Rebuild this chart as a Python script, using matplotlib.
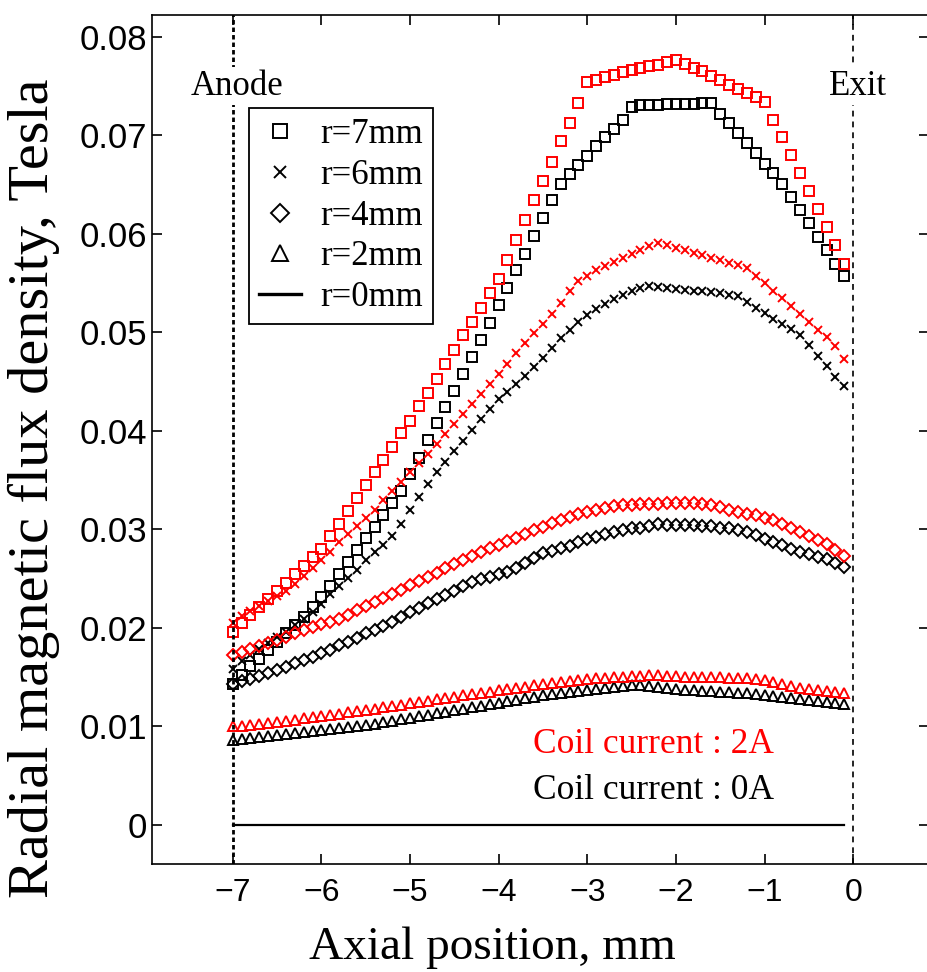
import numpy as np
import matplotlib
matplotlib.use("Agg")
import matplotlib.pyplot as plt
from matplotlib.lines import Line2D

# axial grid, mm (0.1 mm step, anode at -7 to just before exit)
z = np.round(np.arange(-7.0, -0.05, 0.1), 1)

# coil current 0A (black)
sq_0A = [0.0143, 0.0152, 0.0161, 0.0169, 0.0178, 0.0186, 0.0195, 0.0203, 0.0211, 0.0221,
         0.0231, 0.0243, 0.0255, 0.0267, 0.0279, 0.0291, 0.0303, 0.0315, 0.0327, 0.0339,
         0.0356, 0.0373, 0.0391, 0.0408, 0.0424, 0.0441, 0.0458, 0.0475, 0.0492, 0.0510,
         0.0528, 0.0545, 0.0563, 0.0580, 0.0598, 0.0616, 0.0634, 0.0651, 0.0661, 0.0670,
         0.0679, 0.0689, 0.0698, 0.0707, 0.0716, 0.0729, 0.0731, 0.0731, 0.0731, 0.0732,
         0.0732, 0.0732, 0.0732, 0.0733, 0.0733, 0.0722, 0.0713, 0.0702, 0.0692, 0.0682,
         0.0671, 0.0662, 0.0651, 0.0638, 0.0624, 0.0611, 0.0597, 0.0584, 0.0570, 0.0557]
x_0A = [0.0158, 0.0166, 0.0173, 0.0179, 0.0185, 0.0191, 0.0196, 0.0203, 0.0209, 0.0216,
        0.0224, 0.0234, 0.0243, 0.0251, 0.0259, 0.0269, 0.0277, 0.0284, 0.0293, 0.0306,
        0.0320, 0.0333, 0.0346, 0.0358, 0.0369, 0.0380, 0.0390, 0.0401, 0.0412, 0.0422,
        0.0432, 0.0440, 0.0448, 0.0456, 0.0465, 0.0474, 0.0484, 0.0494, 0.0503, 0.0511,
        0.0518, 0.0524, 0.0529, 0.0534, 0.0538, 0.0542, 0.0545, 0.0547, 0.0546, 0.0545,
        0.0544, 0.0543, 0.0542, 0.0542, 0.0541, 0.0540, 0.0538, 0.0537, 0.0531, 0.0525,
        0.0520, 0.0514, 0.0509, 0.0504, 0.0497, 0.0487, 0.0476, 0.0466, 0.0455, 0.0446]
d_0A = [0.0143, 0.0146, 0.0148, 0.0151, 0.0154, 0.0157, 0.0160, 0.0164, 0.0168, 0.0171,
        0.0175, 0.0178, 0.0183, 0.0186, 0.0190, 0.0195, 0.0198, 0.0202, 0.0206, 0.0211,
        0.0216, 0.0220, 0.0225, 0.0229, 0.0233, 0.0238, 0.0243, 0.0247, 0.0250, 0.0252,
        0.0255, 0.0257, 0.0261, 0.0266, 0.0271, 0.0276, 0.0278, 0.0281, 0.0283, 0.0287,
        0.0290, 0.0292, 0.0295, 0.0297, 0.0299, 0.0301, 0.0302, 0.0304, 0.0306, 0.0305,
        0.0305, 0.0305, 0.0305, 0.0304, 0.0304, 0.0302, 0.0301, 0.0299, 0.0297, 0.0294,
        0.0290, 0.0287, 0.0284, 0.0280, 0.0277, 0.0275, 0.0272, 0.0270, 0.0266, 0.0262]
t_0A = [0.0086, 0.0087, 0.0088, 0.0089, 0.0090, 0.0091, 0.0092, 0.0093, 0.0094, 0.0095,
        0.0096, 0.0097, 0.0098, 0.0099, 0.0100, 0.0102, 0.0103, 0.0105, 0.0106, 0.0108,
        0.0109, 0.0111, 0.0112, 0.0114, 0.0115, 0.0117, 0.0118, 0.0120, 0.0121, 0.0123,
        0.0124, 0.0126, 0.0127, 0.0129, 0.0130, 0.0132, 0.0133, 0.0134, 0.0135, 0.0136,
        0.0137, 0.0138, 0.0139, 0.0140, 0.0141, 0.0142, 0.0142, 0.0141, 0.0140, 0.0139,
        0.0138, 0.0137, 0.0137, 0.0136, 0.0136, 0.0135, 0.0135, 0.0134, 0.0134, 0.0133,
        0.0132, 0.0131, 0.0130, 0.0129, 0.0128, 0.0127, 0.0126, 0.0125, 0.0124, 0.0123]
r0 = [0.0] * 70

# coil current 2A (red)
sq_2A = [0.0196, 0.0205, 0.0213, 0.0221, 0.0229, 0.0238, 0.0246, 0.0255, 0.0263, 0.0272,
         0.0280, 0.0293, 0.0306, 0.0319, 0.0332, 0.0345, 0.0358, 0.0371, 0.0384, 0.0398,
         0.0410, 0.0425, 0.0439, 0.0453, 0.0468, 0.0482, 0.0497, 0.0511, 0.0525, 0.0540,
         0.0554, 0.0574, 0.0594, 0.0614, 0.0634, 0.0654, 0.0673, 0.0694, 0.0713, 0.0733,
         0.0754, 0.0756, 0.0759, 0.0761, 0.0764, 0.0766, 0.0768, 0.0771, 0.0772, 0.0775,
         0.0777, 0.0773, 0.0768, 0.0765, 0.0760, 0.0756, 0.0751, 0.0747, 0.0743, 0.0739,
         0.0734, 0.0716, 0.0698, 0.0680, 0.0662, 0.0644, 0.0625, 0.0607, 0.0589, 0.0570]
x_2A = [0.0205, 0.0212, 0.0217, 0.0222, 0.0227, 0.0232, 0.0238, 0.0245, 0.0253, 0.0261,
        0.0269, 0.0277, 0.0287, 0.0295, 0.0304, 0.0312, 0.0320, 0.0330, 0.0339, 0.0348,
        0.0358, 0.0367, 0.0377, 0.0387, 0.0397, 0.0407, 0.0417, 0.0427, 0.0438, 0.0448,
        0.0458, 0.0468, 0.0479, 0.0489, 0.0499, 0.0509, 0.0519, 0.0530, 0.0542, 0.0552,
        0.0557, 0.0563, 0.0567, 0.0572, 0.0576, 0.0580, 0.0584, 0.0588, 0.0591, 0.0589,
        0.0586, 0.0584, 0.0581, 0.0579, 0.0576, 0.0574, 0.0571, 0.0569, 0.0565, 0.0557,
        0.0550, 0.0542, 0.0535, 0.0527, 0.0519, 0.0511, 0.0503, 0.0495, 0.0486, 0.0473]
d_2A = [0.0173, 0.0176, 0.0179, 0.0182, 0.0185, 0.0188, 0.0191, 0.0195, 0.0198, 0.0201,
        0.0204, 0.0206, 0.0209, 0.0213, 0.0218, 0.0222, 0.0226, 0.0230, 0.0235, 0.0239,
        0.0244, 0.0248, 0.0252, 0.0256, 0.0261, 0.0265, 0.0269, 0.0273, 0.0277, 0.0281,
        0.0284, 0.0288, 0.0291, 0.0295, 0.0299, 0.0303, 0.0307, 0.0310, 0.0313, 0.0316,
        0.0318, 0.0320, 0.0322, 0.0324, 0.0325, 0.0325, 0.0326, 0.0326, 0.0326, 0.0327,
        0.0327, 0.0327, 0.0327, 0.0326, 0.0325, 0.0323, 0.0320, 0.0318, 0.0316, 0.0315,
        0.0312, 0.0310, 0.0306, 0.0302, 0.0297, 0.0293, 0.0289, 0.0285, 0.0279, 0.0273]
t_2A = [0.0100, 0.0101, 0.0102, 0.0103, 0.0104, 0.0105, 0.0106, 0.0107, 0.0109, 0.0110,
        0.0111, 0.0112, 0.0113, 0.0115, 0.0116, 0.0117, 0.0118, 0.0120, 0.0121, 0.0122,
        0.0124, 0.0125, 0.0126, 0.0128, 0.0129, 0.0130, 0.0132, 0.0133, 0.0134, 0.0135,
        0.0137, 0.0138, 0.0139, 0.0140, 0.0142, 0.0143, 0.0144, 0.0145, 0.0146, 0.0147,
        0.0148, 0.0149, 0.0149, 0.0150, 0.0150, 0.0151, 0.0151, 0.0152, 0.0152, 0.0151,
        0.0151, 0.0150, 0.0150, 0.0150, 0.0150, 0.0150, 0.0149, 0.0149, 0.0149, 0.0148,
        0.0147, 0.0145, 0.0143, 0.0141, 0.0139, 0.0138, 0.0137, 0.0136, 0.0135, 0.0134]

xticks = [-7, -6, -5, -4, -3, -2, -1, 0]
xticklabels = ["\u22127", "\u22126", "\u22125", "\u22124", "\u22123", "\u22122", "\u22121", "0"]
yticks = [0, 0.01, 0.02, 0.03, 0.04, 0.05, 0.06, 0.07, 0.08]
yticklabels = ["0", "0.01", "0.02", "0.03", "0.04", "0.05", "0.06", "0.07", "0.08"]
legend_labels = ["r=7mm", "r=6mm", "r=4mm", "r=2mm", "r=0mm"]

serif = "Liberation Serif"
sans = "Liberation Sans"

W, H = 928, 972
fig = plt.figure(figsize=(W / 100, H / 100), dpi=100)
ax = fig.add_axes([152 / W, (H - 864) / H, (929 - 152) / W, (864 - 15) / H])

mk = dict(linestyle="none", markerfacecolor="none")
for col, sq, xx, dd, tt in [("black", sq_0A, x_0A, d_0A, t_0A),
                            ("red", sq_2A, x_2A, d_2A, t_2A)]:
    ax.plot(z, tt, marker="^", ms=7.6, mew=1.4, color=col, **mk)
    ax.plot(z, dd, marker="D", ms=5.8, mew=1.4, color=col, **mk)
    ax.plot(z, xx, marker="x", ms=6.0, mew=1.4, color=col, **mk)
    ax.plot(z, sq, marker="s", ms=7.2, mew=1.4, color=col, **mk)
ax.plot(z, r0, color="black", lw=1.6)

# anode / exit markers
ax.axvline(-7, color="black", lw=2.0, ls=(0, (1.6, 1.1)))
ax.axvline(0, color="black", lw=1.2, ls=(0, (3.5, 3.0)))
ax.text(-6.95, 0.0750, "Anode", family=serif, fontsize=25, ha="center", va="center",
        bbox=dict(facecolor="white", edgecolor="none", pad=2))
ax.text(0.05, 0.0750, "Exit", family=serif, fontsize=25, ha="center", va="center",
        bbox=dict(facecolor="white", edgecolor="none", pad=2))
ax.text(-3.61, 0.0082, "Coil current : 2A", family=serif, fontsize=25.5, color="red",
        ha="left", va="center")
ax.text(-3.61, 0.0035, "Coil current : 0A", family=serif, fontsize=25.5, color="black",
        ha="left", va="center")

ax.set_xlim(-7.911, 0.856)
ax.set_ylim(-0.00396, 0.08223)
ax.set_xticks(xticks)
ax.set_xticklabels(xticklabels, family=sans, fontsize=23)
ax.set_yticks(yticks)
ax.set_yticklabels(yticklabels, family=sans, fontsize=25)
ax.tick_params(direction="in", length=7, width=1.2, top=True, right=True)
ax.tick_params(axis="x", pad=10)
ax.tick_params(axis="y", pad=3.5)
for s in ax.spines.values():
    s.set_linewidth(1.2)

fig.text(492 / W, 1 - 948 / H, "Axial position, mm", family=serif, fontsize=34,
         ha="center", va="center")
fig.text(34 / W, 1 - 488 / H, "Radial magnetic flux density, Tesla", family=serif,
         fontsize=42, rotation=90, ha="center", va="center")

handles = [
    Line2D([], [], marker="s", ms=10, mew=1.4, color="black", **mk),
    Line2D([], [], marker="x", ms=9, mew=1.4, color="black", **mk),
    Line2D([], [], marker="D", ms=9, mew=1.4, color="black", **mk),
    Line2D([], [], marker="^", ms=11, mew=1.4, color="black", **mk),
    Line2D([], [], color="black", lw=2.4),
]
leg = fig.legend(handles, legend_labels, loc="upper left",
                 bbox_to_anchor=(249 / W, 1 - 108 / H), prop={"family": serif, "size": 25},
                 frameon=True, fancybox=False, framealpha=1, edgecolor="black",
                 handlelength=1.2, handletextpad=0.55, labelspacing=0.22,
                 borderpad=0.3, borderaxespad=0)
leg.get_frame().set_linewidth(1.3)

fig.savefig("out.png", dpi=100)
